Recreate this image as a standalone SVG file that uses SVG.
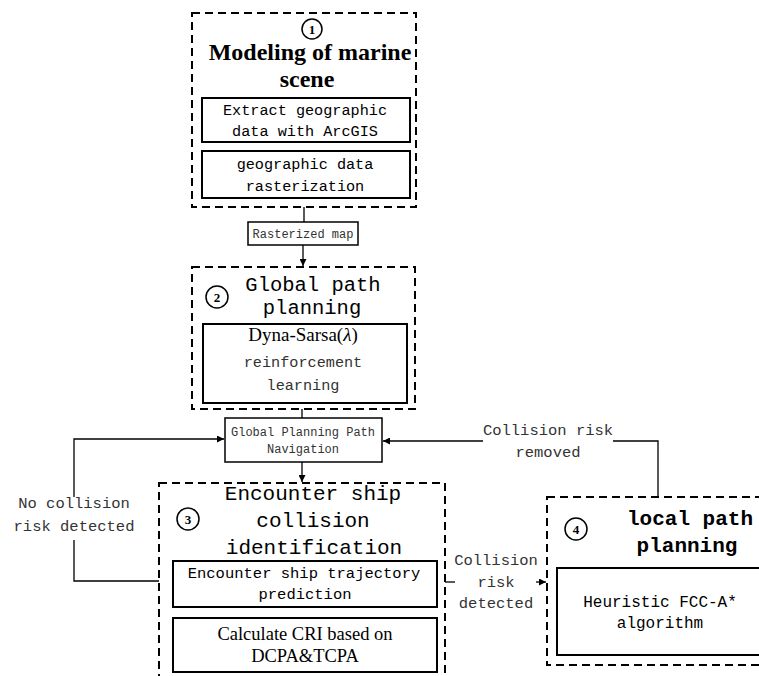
<svg xmlns="http://www.w3.org/2000/svg" width="759" height="676" viewBox="0 0 759 676">
<style>
.dash{fill:none;stroke:#000;stroke-width:2;stroke-dasharray:8 5}
.box{fill:#fff;stroke:#000;stroke-width:2}
.sbox{fill:#fff;stroke:#000;stroke-width:1.5}
.num{fill:#fff;stroke:#000;stroke-width:1.5}
.numt{font-family:"Liberation Serif",serif;font-size:13px;font-weight:bold;text-anchor:middle}
.ser{font-family:"Liberation Serif",serif;text-anchor:middle;fill:#000}
.mono{font-family:"Liberation Mono",monospace;text-anchor:middle;fill:#000}
.gray{fill:#333}
.ln{fill:none;stroke:#000;stroke-width:1.3}
</style>
<defs>
<marker id="arr" viewBox="0 0 10 10" refX="10" refY="5" markerWidth="9" markerHeight="7" markerUnits="userSpaceOnUse" orient="auto">
<path d="M0,0 L10,5 L0,10 z" fill="#000"/>
</marker>
</defs>
<rect width="759" height="676" fill="#fff"/>

<g id="connectors">
<line class="ln" x1="304" y1="207" x2="304" y2="222"/>
<line class="ln" x1="303" y1="245" x2="303" y2="266" marker-end="url(#arr)"/>
<line class="ln" x1="302" y1="409" x2="302" y2="418"/>
<line class="ln" x1="302" y1="462" x2="302" y2="482" marker-end="url(#arr)"/>
<polyline class="ln" points="159,581 74,581 74,540"/>
<polyline class="ln" points="74,497 74,439 224,439" marker-end="url(#arr)"/>
<polyline class="ln" points="658,497 658,441 613,441"/>
<line class="ln" x1="483" y1="441" x2="383" y2="441" marker-end="url(#arr)"/>
<line class="ln" x1="445" y1="582" x2="455" y2="582"/>
<line class="ln" x1="536" y1="582" x2="546" y2="582" marker-end="url(#arr)"/>
<text class="mono gray" font-size="15.5" x="74" y="508">No collision</text>
<text class="mono gray" font-size="15.5" x="74" y="531">risk detected</text>
<text class="mono gray" font-size="15.5" x="548" y="435">Collision risk</text>
<text class="mono gray" font-size="15.5" x="548" y="457">removed</text>
<text class="mono gray" font-size="15.5" x="496" y="565">Collision</text>
<text class="mono gray" font-size="15.5" x="496" y="587">risk</text>
<text class="mono gray" font-size="15.5" x="496" y="608">detected</text>
</g>

<g id="node1">
<rect class="dash" x="192" y="13" width="224" height="194"/>
<circle class="num" cx="312" cy="29" r="10"/>
<text class="numt" x="312" y="34">1</text>
<text class="ser" font-size="24" font-weight="bold" x="310" y="60">Modeling of marine</text>
<text class="ser" font-size="24" font-weight="bold" x="307" y="87">scene</text>
<rect class="box" x="202" y="98" width="208" height="44"/>
<text class="mono" font-size="15.2" x="305" y="115">Extract geographic</text>
<text class="mono" font-size="15.2" x="305" y="136">data with ArcGIS</text>
<rect class="box" x="202" y="151" width="208" height="47"/>
<text class="mono" font-size="15.2" x="305" y="169">geographic data</text>
<text class="mono" font-size="15.2" x="305" y="191">rasterization</text>
</g>

<g id="rasterized">
<rect class="sbox" x="248" y="222" width="110" height="23"/>
<text class="mono gray" font-size="12" x="303" y="238">Rasterized map</text>
</g>

<g id="node2">
<rect class="dash" x="192" y="267" width="223" height="142"/>
<circle class="num" cx="217" cy="297" r="11"/>
<text class="numt" x="217" y="302">2</text>
<text class="mono" font-size="20.5" x="313" y="291">Global path</text>
<text class="mono" font-size="20.5" x="312" y="314">planning</text>
<rect class="box" x="203" y="324" width="204" height="79"/>
<text class="ser" font-size="19" x="303" y="341">Dyna-Sarsa(<tspan font-style="italic">λ</tspan>)</text>
<text class="mono gray" font-size="15.2" x="303" y="367">reinforcement</text>
<text class="mono gray" font-size="15.2" x="303" y="390">learning</text>
</g>

<g id="globalnav">
<rect class="sbox" x="225" y="418" width="157" height="44"/>
<text class="mono gray" font-size="12" x="303" y="436">Global Planning Path</text>
<text class="mono gray" font-size="12" x="303" y="453">Navigation</text>
</g>

<g id="node3">
<rect class="dash" x="159" y="483" width="286" height="210"/>
<circle class="num" cx="188" cy="519" r="11"/>
<text class="numt" x="188" y="524">3</text>
<text class="mono" font-size="21" x="313" y="500">Encounter ship</text>
<text class="mono" font-size="21" x="313" y="527">collision</text>
<text class="mono" font-size="21" x="314" y="554">identification</text>
<rect class="box" x="173" y="561" width="264" height="46"/>
<text class="mono" font-size="15.5" x="304" y="578">Encounter ship trajectory</text>
<text class="mono" font-size="15.5" x="305" y="599">prediction</text>
<rect class="box" x="173" y="618" width="264" height="54"/>
<text class="ser" font-size="18.5" x="305" y="640">Calculate CRI based on</text>
<text class="ser" font-size="18.5" x="305" y="662">DCPA&amp;TCPA</text>
</g>

<g id="node4">
<rect class="dash" x="547" y="497" width="230" height="168"/>
<circle class="num" cx="576" cy="529" r="11"/>
<text class="numt" x="576" y="534">4</text>
<text class="mono" font-size="21" font-weight="bold" x="690" y="525">local path</text>
<text class="mono" font-size="21" font-weight="bold" x="687" y="552">planning</text>
<rect class="box" x="557" y="568" width="215" height="87"/>
<text class="mono" font-size="16" x="660" y="607">Heuristic FCC-A*</text>
<text class="mono" font-size="16" x="660" y="628">algorithm</text>
</g>
</svg>
